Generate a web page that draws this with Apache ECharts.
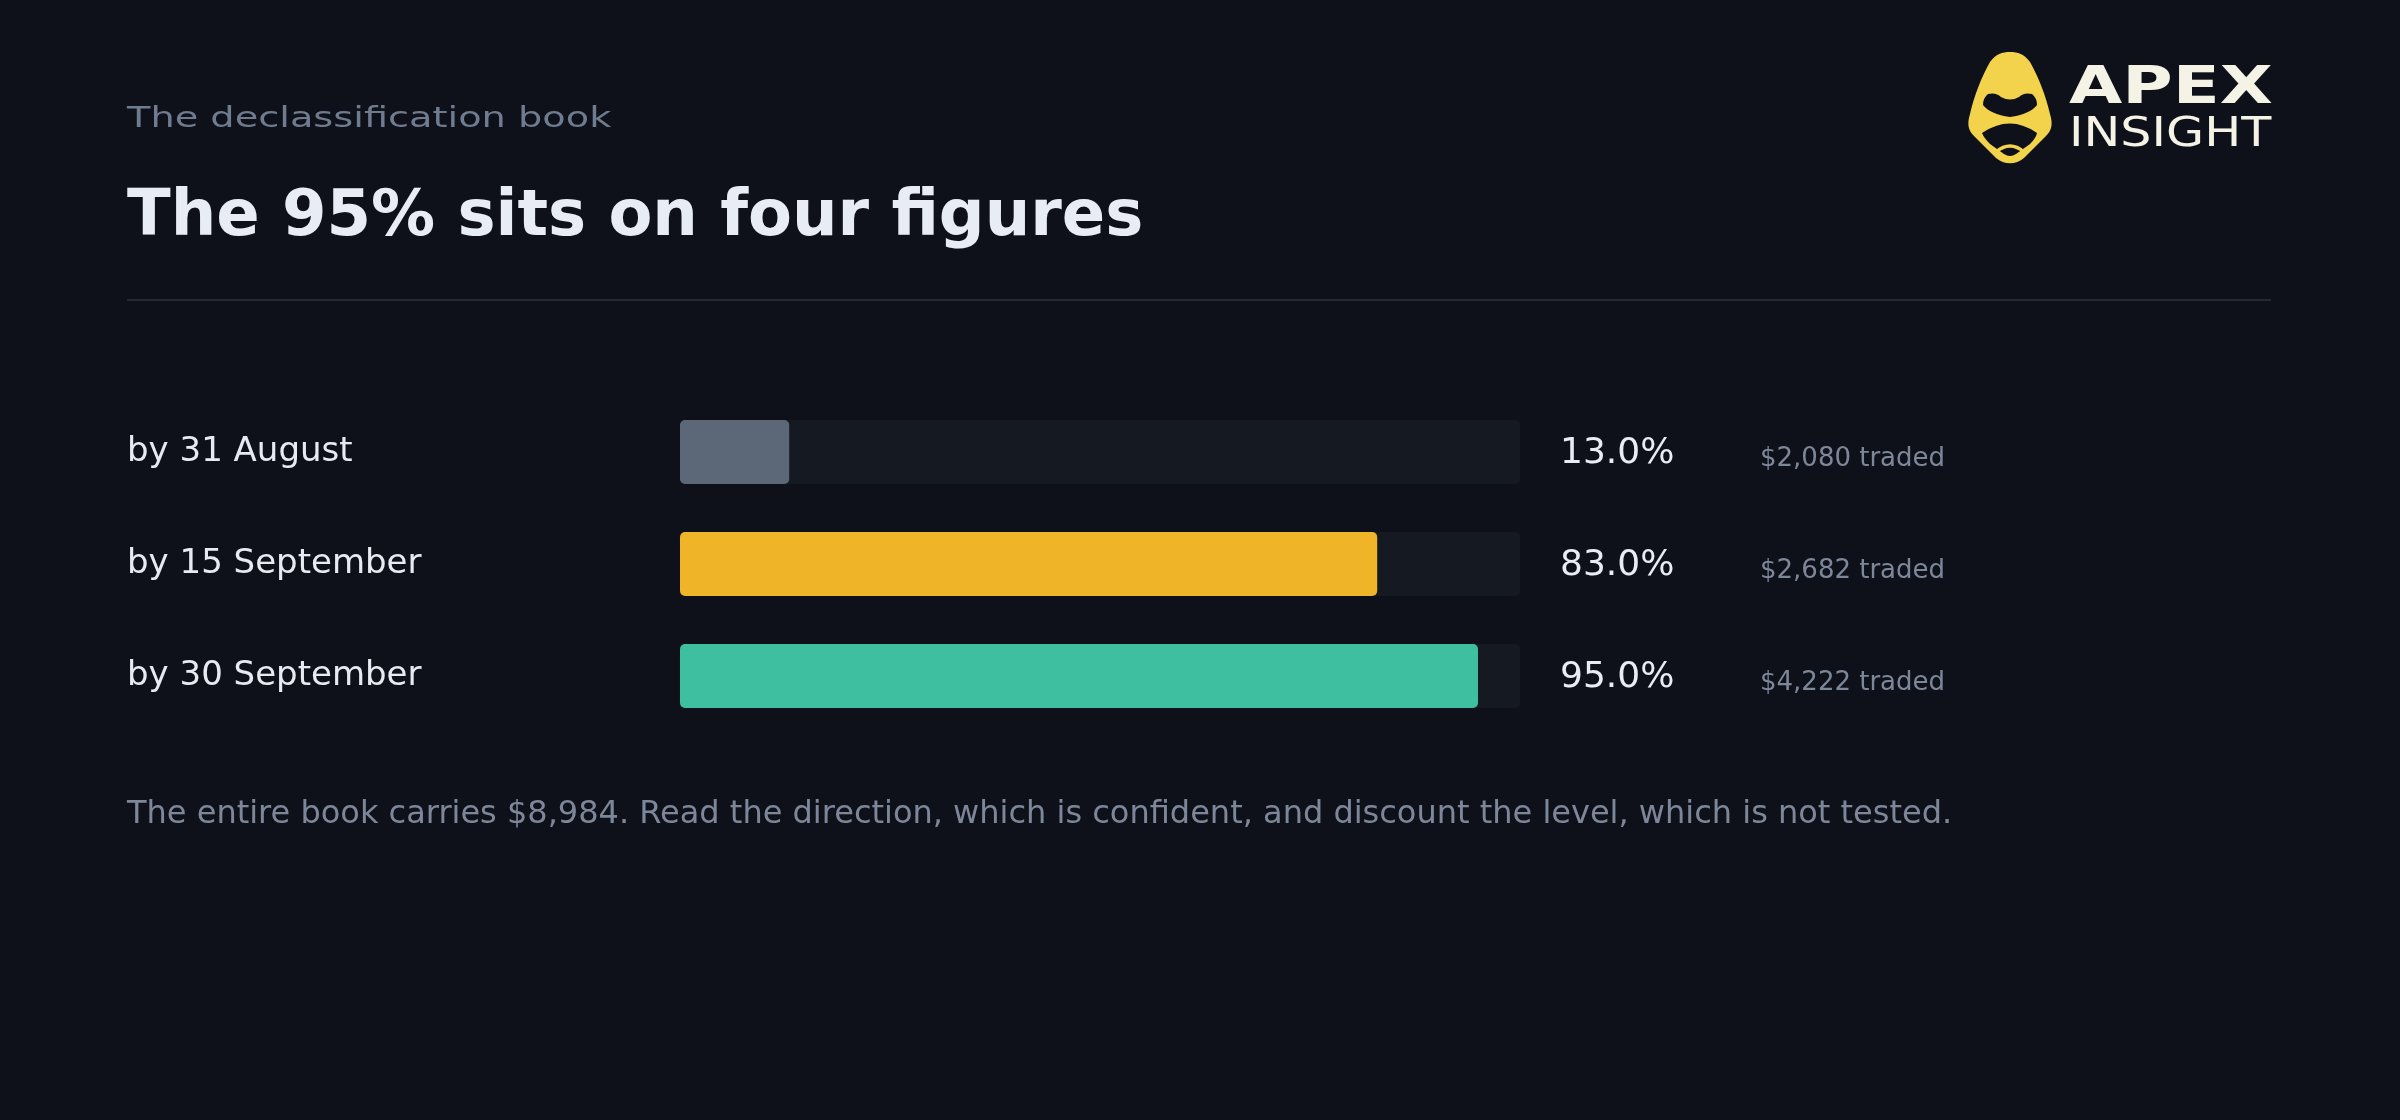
<!DOCTYPE html>
<html>
<head>
<meta charset="utf-8">
<title>The 95% sits on four figures</title>
<script src="https://cdn.jsdelivr.net/npm/echarts@6/dist/echarts.min.js"></script>
<style>
  html, body { margin: 0; padding: 0; background: #0e1119; }
  #chart { width: 2400px; height: 1120px; }
</style>
</head>
<body>
<div id="chart"></div>
<script>
  // data
  var categories = ['by 31 August', 'by 15 September', 'by 30 September']
  var shares = [13.0, 83.0, 95.0]
  var traded = [2080, 2682, 4222]
  var barColors = ['#5c6878', '#f0b429', '#3ebfa0']
  var bookTotal = 8984

  var trackColor = '#151a22'
  var fontFamily = '"DejaVu Sans", sans-serif'

  function money(v) {
    return '$' + v.toLocaleString('en-US')
  }

  // logo shapes
  var logoPaths = {
    apexShield: 'M 22 10 C 28 2 34 0 42 0 C 50 0 56 2 62 10 C 70 24 78 44 82 62 C 85 72 84 78 78 84 L 56 106 C 48 113 36 113 28 106 L 6 84 C 0 78 -1 72 2 62 C 6 44 14 24 22 10 Z',
    apexEyeTop: 'M 20 42 Q 28 40 33 45 Q 42 50 51 45 Q 56 40 64 42 Q 69 46 69 53 Q 62 62 42 65 Q 22 62 15 53 Q 15 46 20 42 Z',
    apexEyeLow: 'M 14 81 Q 42 62 69 81 Q 68 86 62 92 L 48 102 Q 42 106 36 102 L 22 92 Q 16 86 14 81 Z',
    apexArc: 'M 28 100 Q 42 88 56 100'
  }
  Object.keys(logoPaths).forEach(function (k) {
    echarts.graphic.registerShape(k, echarts.graphic.extendPath(logoPaths[k], {}))
  })

  var chart = echarts.init(document.getElementById('chart'))

  var option = {
    backgroundColor: '#0e1119',
    textStyle: { fontFamily: fontFamily },
    animation: false,
    grid: {
      left: 680,
      right: 880,
      top: 396,
      height: 336
    },
    xAxis: {
      type: 'value',
      min: 0,
      max: 100,
      show: false,
      splitLine: { show: false }
    },
    yAxis: {
      type: 'category',
      inverse: true,
      data: categories,
      axisLine: { show: false },
      axisTick: { show: false },
      splitLine: { show: false },
      axisLabel: {
        align: 'left',
        margin: 553,
        fontSize: 34,
        color: '#e6ebf2',
        padding: [4, 0, 0, 0],
        fontFamily: fontFamily
      }
    },
    series: [
      {
        name: 'track',
        type: 'bar',
        silent: true,
        barWidth: 64,
        data: categories.map(function () { return 100 }),
        itemStyle: { color: trackColor, borderRadius: 5 },
        z: 1,
        label: {
          show: true,
          position: 'right',
          distance: 40,
          formatter: function (p) {
            return '{p|' + shares[p.dataIndex].toFixed(1) + '%}{g|' + money(traded[p.dataIndex]) + ' traded}'
          },
          rich: {
            p: { fontSize: 36, color: '#e8edf5', width: 200, lineHeight: 40, verticalAlign: 'bottom', fontFamily: fontFamily },
            g: { fontSize: 26, color: '#7d8799', lineHeight: 31, verticalAlign: 'bottom', fontFamily: fontFamily }
          }
        }
      },
      {
        name: 'share',
        type: 'bar',
        barWidth: 64,
        barGap: '-100%',
        z: 2,
        data: shares.map(function (v, i) {
          return { value: v, itemStyle: { color: barColors[i], borderRadius: 5 } }
        })
      }
    ],
    graphic: [
      {
        type: 'text', x: 127, y: 119, scaleX: 1.32,
        style: { text: 'The declassification book', fontSize: 29, fill: '#6f7b8f', fontFamily: fontFamily, verticalAlign: 'middle' }
      },
      {
        type: 'text', x: 127, y: 218,
        style: { text: 'The 95% sits on four figures', fontSize: 64, fontWeight: 'bold', fill: '#e8edf5', fontFamily: fontFamily, verticalAlign: 'middle' }
      },
      {
        type: 'rect',
        shape: { x: 127, y: 299, width: 2144, height: 2 },
        style: { fill: '#232a35' }
      },
      {
        type: 'text', x: 127, y: 815,
        style: {
          text: 'The entire book carries ' + money(bookTotal) + '. Read the direction, which is confident, and discount the level, which is not tested.',
          fontSize: 32, fill: '#7d8799', fontFamily: fontFamily, verticalAlign: 'middle'
        }
      },
      // logo
      {
        type: 'group',
        x: 1968,
        y: 52,
        children: [
          { type: 'apexShield', style: { fill: '#f3d24c' } },
          { type: 'apexEyeTop', style: { fill: '#0e1119' } },
          { type: 'apexEyeLow', style: { fill: '#0e1119' } },
          { type: 'apexArc', style: { stroke: '#f3d24c', lineWidth: 3.5, fill: null } }
        ]
      },
      {
        type: 'text', x: 2069, y: 90, scaleX: 1.35,
        style: { text: 'APEX', fontSize: 51, fontWeight: 'bold', fill: '#f5f3e6', fontFamily: fontFamily, verticalAlign: 'middle' }
      },
      {
        type: 'text', x: 2069, y: 135, scaleX: 1.2,
        style: { text: 'INSIGHT', fontSize: 41, fill: '#f5f3e6', fontFamily: fontFamily, verticalAlign: 'middle' }
      }
    ]
  }

  chart.setOption(option)
</script>
</body>
</html>
